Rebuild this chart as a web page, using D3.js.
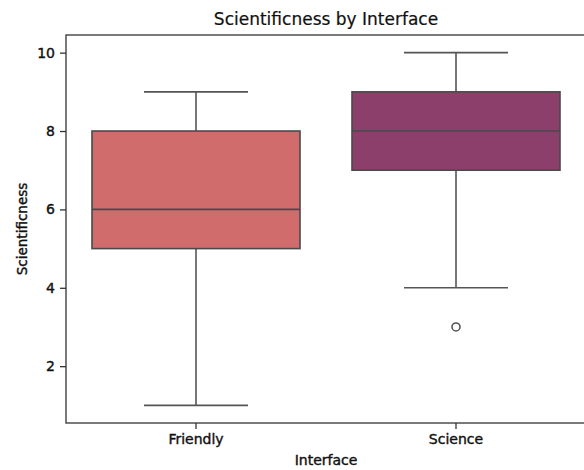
<!DOCTYPE html>
<html>
<head>
<meta charset="utf-8">
<script src="https://cdn.jsdelivr.net/npm/d3@7"></script>
<style>
  html, body { margin: 0; padding: 0; background: #fff; }
  svg text { font-family: "DejaVu Sans", sans-serif; fill: #111; }
  .heavy { stroke: #111; stroke-width: 0.4px; }
</style>
</head>
<body>
<svg id="chart" width="584" height="470"></svg>
<script>
// Box-plot summaries per interface
const categories = ["Friendly", "Science"];
const whiskerLow = [1, 4];
const q1 = [5, 7];
const median = [6, 8];
const q3 = [8, 9];
const whiskerHigh = [9, 10];
const outliers = [[], [3]];
const fills = ["#d06c6b", "#8c3f6b"];
const yTicks = [2, 4, 6, 8, 10];

const margin = { left: 66, top: 35, right: 586, bottom: 423 };
const svg = d3.select("#chart");

const x = d3.scaleBand().domain(categories)
  .range([margin.left, margin.right]).paddingInner(0).paddingOuter(0);
const y = d3.scaleLinear().domain([0.55, 10.45]).range([margin.bottom, margin.top]);

const lineColor = "#555";
const bw = x.bandwidth() * 0.8;
const capW = bw * 0.5;

const g = svg.append("g");
categories.forEach((c, i) => {
  const cx = x(c) + x.bandwidth() / 2;
  // whiskers
  g.append("line").attr("x1", cx).attr("x2", cx)
    .attr("y1", y(q3[i])).attr("y2", y(whiskerHigh[i]))
    .attr("stroke", lineColor).attr("stroke-width", 1.6);
  g.append("line").attr("x1", cx).attr("x2", cx)
    .attr("y1", y(q1[i])).attr("y2", y(whiskerLow[i]))
    .attr("stroke", lineColor).attr("stroke-width", 1.6);
  // caps
  [whiskerLow[i], whiskerHigh[i]].forEach(v => {
    g.append("line").attr("x1", cx - capW / 2).attr("x2", cx + capW / 2)
      .attr("y1", y(v)).attr("y2", y(v))
      .attr("stroke", lineColor).attr("stroke-width", 1.6);
  });
  // box
  g.append("rect").attr("x", cx - bw / 2).attr("width", bw)
    .attr("y", y(q3[i])).attr("height", y(q1[i]) - y(q3[i]))
    .attr("fill", fills[i]).attr("stroke", "#4a4a4a").attr("stroke-width", 1.6);
  // median
  g.append("line").attr("x1", cx - bw / 2).attr("x2", cx + bw / 2)
    .attr("y1", y(median[i])).attr("y2", y(median[i]))
    .attr("stroke", "#4a4a4a").attr("stroke-width", 1.6);
  // fliers
  outliers[i].forEach(v => {
    g.append("circle").attr("cx", cx).attr("cy", y(v)).attr("r", 4)
      .attr("fill", "#fff").attr("stroke", lineColor).attr("stroke-width", 1.6);
  });
});

// axes
const xAxis = svg.append("g").attr("transform", `translate(0,${margin.bottom})`)
  .call(d3.axisBottom(x).tickSizeOuter(0).tickSize(6).tickPadding(5));
const yAxis = svg.append("g").attr("transform", `translate(${margin.left},0)`)
  .call(d3.axisLeft(y).tickValues(yTicks).tickSizeOuter(0).tickSize(6).tickPadding(5));
[xAxis, yAxis].forEach(a => {
  a.select(".domain").remove();
  a.selectAll(".tick line").attr("stroke", "#333").attr("stroke-width", 1.3);
  a.selectAll(".tick text").attr("font-size", 14).attr("fill", "#111").classed("heavy", true);
});

// frame
svg.append("rect").attr("x", margin.left).attr("y", margin.top)
  .attr("width", margin.right - margin.left).attr("height", margin.bottom - margin.top)
  .attr("fill", "none").attr("stroke", "#333").attr("stroke-width", 1.3);

// labels
svg.append("text").attr("x", (margin.left + margin.right) / 2).attr("y", 25)
  .attr("text-anchor", "middle").attr("font-size", 17)
  .attr("stroke", "#111").attr("stroke-width", 0.2).text("Scientificness by Interface");
svg.append("text").attr("x", (margin.left + margin.right) / 2).attr("y", 465)
  .attr("text-anchor", "middle").attr("font-size", 14).classed("heavy", true).text("Interface");
svg.append("text").attr("transform", `translate(27,${(margin.top + margin.bottom) / 2}) rotate(-90)`)
  .attr("text-anchor", "middle").attr("font-size", 13.5).classed("heavy", true).text("Scientificness");
</script>
</body>
</html>
